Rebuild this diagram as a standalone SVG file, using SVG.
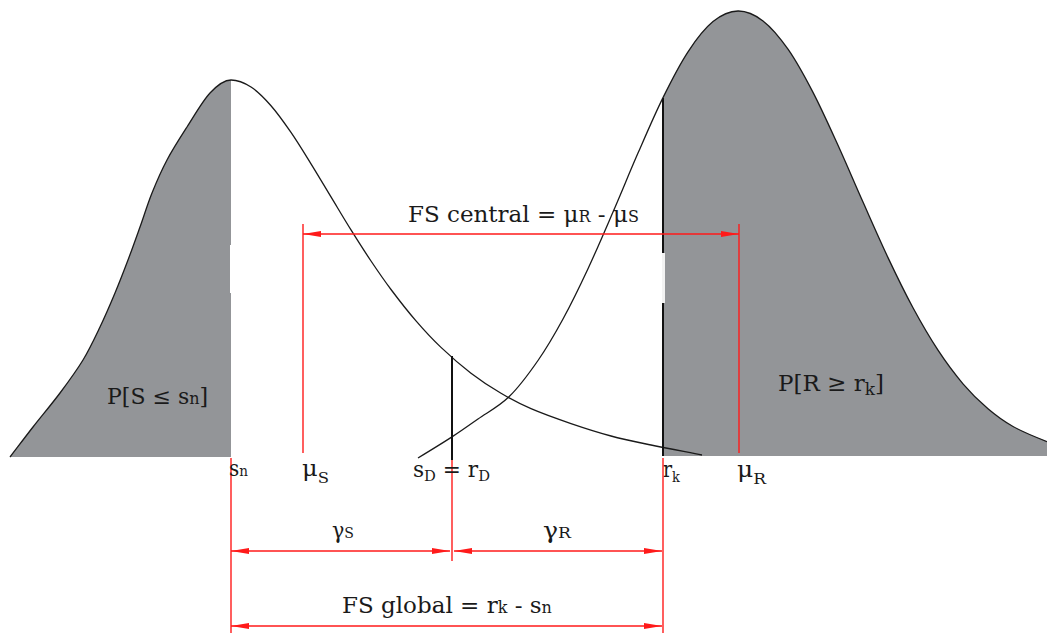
<svg xmlns="http://www.w3.org/2000/svg" width="1047" height="633" viewBox="0 0 1047 633">
<style>
.fill{fill:#939598;stroke:none}
.curve{fill:none;stroke:#1a1a1a;stroke-width:1.3;stroke-linejoin:round}
.blk{stroke:#111;stroke-width:2;fill:none}
.red{stroke:#ff1a1a;stroke-width:1.4;fill:none}
.dim{stroke:#ff1a1a;stroke-width:1.4;fill:none;marker-start:url(#ah);marker-end:url(#ah)}
.lbl{font-family:"DejaVu Serif",serif;fill:#1a1a1a;font-size:22px}
.b22{font-size:22px}
.b23{font-size:23px}
.sm{font-size:15px}
.sm2{font-size:16px}
.sm3{font-size:17px}
</style>
<defs>
<marker id="ah" viewBox="0 0 18 6" refX="18" refY="3" markerWidth="18" markerHeight="6" markerUnits="userSpaceOnUse" orient="auto-start-reverse">
<path d="M0,0 L18,3 L0,6 Z" fill="#ff1a1a"/>
</marker>
</defs>
<rect width="1047" height="633" fill="#fff"/>
<g id="dist-S">
<path class="fill" d="M10,457 C17.67,447 24.67,437.67 33,427 S51.67,404.17 60,393 S76.33,371 83,360 S94.67,338.17 100,327 S110.33,304.17 115,293 S123.83,271 128,260 S136,238.17 140,227 S147.5,204.17 152,193 S161.17,171 167,160 S179.83,138.17 187,127 S202.67,100.83 210,93 S224.17,80 231,80 L231,457 Z"/>
<rect x="230" y="245" width="3" height="48" fill="#fff"/>
</g>
<g id="dist-R">
<path class="fill" d="M663,97.6 C671.33,80.72 679.67,64.47 688,51.8 S704.67,28.4 713,21.6 S729.67,11.12 738,11 S754.67,14.53 763,20.9 S779.67,37.28 788,49.2 S804.67,76.38 813,92.4 S829.67,127.02 838,145.3 S854.67,183.38 863,202.1 S879.67,239.98 888,257.6 S904.67,292.37 913,307.8 S929.67,337.53 938,350.2 S954.67,374.03 963,383.8 S979.67,401.68 988,408.8 S1003.17,421.03 1013,426.5 S1038.67,438.35 1047,441.6 L1047,456 L663,456 Z"/>
<rect x="662" y="253" width="3" height="50" fill="#f2f2f2"/>
</g>
<g id="curves">
<path class="curve" d="M10,457 C17.67,447 24.67,437.67 33,427 S51.67,404.17 60,393 S76.33,371 83,360 S94.67,338.17 100,327 S110.33,304.17 115,293 S123.83,271 128,260 S136,238.17 140,227 S147.5,204.17 152,193 S161.17,171 167,160 S179.83,138.17 187,127 S202.67,100.83 210,93 S224.17,80 231,80 S244.33,82.72 251,87 S264.33,98.13 271,105.7 S284.33,122.72 291,132.4 S304.33,153.05 311,163.8 S324.33,185.88 331,196.9 S344.33,219.22 351,229.9 S364.33,251.07 371,261 S383.5,279.52 391,289.5 S407.67,311.25 416,320.9 S431.83,338.68 441,347.4 S461,365.55 471,373.2 S491,387.38 501,393.3 S519.33,403.65 531,408.7 S557.67,419.05 571,423.6 S597.67,432.43 611,436 S635.83,441.83 651,445 S685,451.67 702,455"/>
<path class="curve" d="M418,458 S442,443.4 452,436.9 S468.5,425.68 478,419 S499,406.55 509,396.8 S529,373.47 538,360.5 S554.67,334.3 563,319 S579.67,286.53 588,268.7 S604.67,231.27 613,212 S629.67,172.17 638,153.1 S654.67,114.48 663,97.6 S679.67,64.47 688,51.8 S704.67,28.4 713,21.6 S729.67,11.12 738,11 S754.67,14.53 763,20.9 S779.67,37.28 788,49.2 S804.67,76.38 813,92.4 S829.67,127.02 838,145.3 S854.67,183.38 863,202.1 S879.67,239.98 888,257.6 S904.67,292.37 913,307.8 S929.67,337.53 938,350.2 S954.67,374.03 963,383.8 S979.67,401.68 988,408.8 S1003.17,421.03 1013,426.5 S1038.67,438.35 1047,441.6"/>
</g>
<g id="markers-black">
<line class="blk" x1="452" y1="356" x2="452" y2="460"/>
<line class="blk" x1="663" y1="98" x2="663" y2="253"/>
<line class="blk" x1="663" y1="303" x2="663" y2="456"/>
</g>
<g id="connectors">
<line class="red" x1="303" y1="224" x2="303" y2="453"/>
<line class="red" x1="739" y1="224" x2="739" y2="453"/>
<line class="red" x1="231" y1="458" x2="231" y2="633"/>
<line class="red" x1="452" y1="460" x2="452" y2="561"/>
<line class="red" x1="663" y1="458" x2="663" y2="633"/>
<line class="dim" x1="303" y1="234" x2="739" y2="234"/>
<line class="dim" x1="231" y1="551" x2="450" y2="551"/>
<line class="dim" x1="454" y1="551" x2="662" y2="551"/>
<line class="dim" x1="231" y1="626" x2="662" y2="626"/>
</g>
<g id="labels">
<text class="lbl b23" x="408" y="222">FS central = μ<tspan class="sm2">R</tspan> - μ<tspan class="sm2">S</tspan></text>
<text class="lbl b22" x="107" y="404">P[S ≤ s<tspan class="sm2">n</tspan>]</text>
<text class="lbl b23" x="778" y="391">P[R ≥ r<tspan class="sm3" dy="4">k</tspan><tspan dy="-4">]</tspan></text>
<text class="lbl" x="229" y="476" textLength="19" lengthAdjust="spacingAndGlyphs">s<tspan class="sm">n</tspan></text>
<text class="lbl" x="302" y="476" textLength="27" lengthAdjust="spacingAndGlyphs">μ<tspan class="sm" dy="7">S</tspan></text>
<text class="lbl" x="413" y="477" textLength="77" lengthAdjust="spacingAndGlyphs">s<tspan class="sm" dy="4">D</tspan><tspan dy="-4"> = r</tspan><tspan class="sm" dy="4">D</tspan></text>
<text class="lbl" x="663" y="477" textLength="17" lengthAdjust="spacingAndGlyphs">r<tspan class="sm" dy="5">k</tspan></text>
<text class="lbl" x="737" y="477" textLength="29" lengthAdjust="spacingAndGlyphs">μ<tspan class="sm" dy="7">R</tspan></text>
<text class="lbl" x="332" y="538" textLength="22" lengthAdjust="spacingAndGlyphs">γ<tspan class="sm">S</tspan></text>
<text class="lbl" x="543" y="538" textLength="28" lengthAdjust="spacingAndGlyphs">γ<tspan class="sm">R</tspan></text>
<text class="lbl b23" x="342" y="613">FS global = r<tspan class="sm2">k</tspan> - s<tspan class="sm2">n</tspan></text>
</g>
</svg>
